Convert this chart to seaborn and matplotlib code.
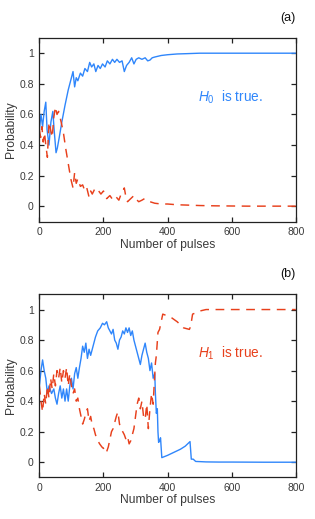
import numpy as np
import pandas as pd
import matplotlib
matplotlib.use("Agg")
import matplotlib.pyplot as plt
import seaborn as sns

# ---------------- data ----------------
# Panel (a): H0 is true
a_blue_x = [0, 5, 10, 15, 20, 24, 30, 36, 42, 46, 52, 56, 62, 70, 80, 90, 100, 105, 110, 115, 120, 128, 135, 142, 150, 157, 163, 170, 176, 183, 190, 197, 205, 212, 220, 228, 235, 242, 250, 258, 265, 272, 280, 288, 295, 302, 310, 320, 330, 338, 345, 352, 360, 370, 380, 400, 430, 460, 500, 550, 600, 650, 700, 750, 800]
a_blue_y = [0.50, 0.60, 0.52, 0.62, 0.68, 0.50, 0.40, 0.55, 0.62, 0.50, 0.35, 0.38, 0.45, 0.55, 0.66, 0.76, 0.84, 0.88, 0.78, 0.84, 0.82, 0.87, 0.85, 0.90, 0.88, 0.94, 0.91, 0.93, 0.88, 0.92, 0.90, 0.93, 0.91, 0.95, 0.93, 0.96, 0.94, 0.96, 0.94, 0.95, 0.88, 0.92, 0.94, 0.97, 0.93, 0.96, 0.97, 0.96, 0.97, 0.95, 0.955, 0.97, 0.975, 0.98, 0.985, 0.99, 0.995, 0.997, 1.0, 1.0, 1.0, 1.0, 1.0, 1.0, 1.0]
a_red_x = [0, 4, 8, 12, 16, 20, 25, 30, 35, 40, 45, 50, 55, 60, 68, 75, 82, 90, 98, 105, 110, 115, 120, 128, 135, 142, 148, 155, 160, 165, 172, 178, 185, 192, 200, 210, 220, 230, 240, 248, 255, 265, 270, 275, 285, 295, 300, 310, 320, 328, 335, 345, 360, 380, 400, 430, 460, 500, 550, 600, 650, 700, 750, 800]
a_red_y = [0.50, 0.45, 0.52, 0.42, 0.48, 0.40, 0.32, 0.55, 0.50, 0.45, 0.58, 0.65, 0.60, 0.62, 0.55, 0.48, 0.38, 0.28, 0.18, 0.12, 0.22, 0.15, 0.18, 0.13, 0.14, 0.10, 0.12, 0.06, 0.10, 0.08, 0.11, 0.09, 0.10, 0.08, 0.10, 0.05, 0.07, 0.04, 0.06, 0.04, 0.08, 0.12, 0.06, 0.03, 0.05, 0.07, 0.05, 0.03, 0.04, 0.05, 0.04, 0.03, 0.02, 0.015, 0.015, 0.01, 0.008, 0.005, 0.003, 0.002, 0.001, 0.001, 0.001, 0.001]

# Panel (b): H1 is true
b_blue_x = [0, 5, 10, 15, 20, 25, 30, 38, 45, 50, 55, 60, 65, 70, 75, 80, 85, 90, 95, 100, 105, 110, 115, 120, 125, 130, 135, 140, 145, 150, 155, 160, 165, 170, 175, 182, 190, 197, 203, 210, 215, 220, 225, 230, 235, 240, 245, 250, 255, 260, 265, 270, 275, 280, 285, 290, 295, 300, 305, 310, 315, 320, 325, 330, 335, 340, 345, 350, 355, 360, 362, 365, 368, 370, 372, 375, 378, 382, 400, 420, 440, 455, 470, 474, 480, 485, 488, 500, 520, 560, 600, 700, 800]
b_blue_y = [0.50, 0.60, 0.67, 0.60, 0.55, 0.45, 0.50, 0.45, 0.48, 0.42, 0.38, 0.45, 0.50, 0.42, 0.48, 0.40, 0.48, 0.40, 0.50, 0.55, 0.48, 0.58, 0.62, 0.55, 0.62, 0.68, 0.76, 0.72, 0.78, 0.68, 0.74, 0.70, 0.74, 0.78, 0.82, 0.86, 0.88, 0.91, 0.90, 0.92, 0.88, 0.86, 0.84, 0.87, 0.80, 0.78, 0.74, 0.80, 0.82, 0.86, 0.84, 0.88, 0.85, 0.88, 0.83, 0.86, 0.80, 0.76, 0.72, 0.68, 0.64, 0.70, 0.74, 0.78, 0.72, 0.68, 0.60, 0.65, 0.55, 0.58, 0.45, 0.32, 0.35, 0.20, 0.13, 0.14, 0.16, 0.03, 0.045, 0.065, 0.085, 0.105, 0.135, 0.02, 0.02, 0.01, 0.005, 0.004, 0.002, 0.001, 0.001, 0.0, 0.0]
b_red_x = [0, 5, 10, 15, 20, 25, 30, 35, 40, 45, 50, 55, 60, 65, 70, 75, 80, 85, 90, 95, 100, 105, 110, 115, 120, 125, 130, 135, 140, 145, 150, 155, 160, 165, 170, 175, 180, 188, 195, 200, 205, 210, 215, 220, 225, 230, 235, 240, 245, 250, 255, 260, 265, 270, 275, 280, 285, 290, 295, 300, 305, 310, 315, 320, 325, 330, 335, 340, 345, 350, 355, 358, 362, 365, 370, 375, 385, 410, 430, 450, 468, 472, 478, 490, 500, 520, 560, 600, 700, 800]
b_red_y = [0.50, 0.40, 0.33, 0.45, 0.38, 0.50, 0.42, 0.55, 0.48, 0.58, 0.50, 0.60, 0.55, 0.62, 0.52, 0.60, 0.55, 0.62, 0.50, 0.58, 0.50, 0.45, 0.48, 0.40, 0.42, 0.35, 0.30, 0.25, 0.28, 0.32, 0.35, 0.27, 0.30, 0.24, 0.22, 0.18, 0.15, 0.12, 0.10, 0.09, 0.10, 0.07, 0.10, 0.15, 0.20, 0.22, 0.26, 0.30, 0.33, 0.25, 0.22, 0.20, 0.18, 0.15, 0.17, 0.12, 0.14, 0.18, 0.22, 0.30, 0.38, 0.42, 0.35, 0.40, 0.30, 0.28, 0.38, 0.22, 0.35, 0.45, 0.38, 0.50, 0.65, 0.70, 0.85, 0.87, 0.97, 0.95, 0.92, 0.88, 0.87, 0.89, 0.97, 0.98, 0.99, 1.0, 1.0, 1.0, 1.0, 1.0]

x_ticks = [0, 200, 400, 600, 800]
y_ticks = [0, 0.2, 0.4, 0.6, 0.8, 1]
y_tick_labels = ["0", "0.2", "0.4", "0.6", "0.8", "1"]

BLUE = "#2f86fb"
RED = "#e8401c"
TXT = "#3a3a3a"

panels = [
    dict(label="(a)", bx=a_blue_x, by=a_blue_y, rx=a_red_x, ry=a_red_y, text_idx="0", color=BLUE),
    dict(label="(b)", bx=b_blue_x, by=b_blue_y, rx=b_red_x, ry=b_red_y, text_idx="1", color=RED),
]

# ---------------- style ----------------
sns.set_style("ticks")
plt.rcParams["font.family"] = ["Liberation Sans", "DejaVu Sans"]
plt.rcParams["mathtext.fontset"] = "custom"
plt.rcParams["mathtext.it"] = "Liberation Sans:italic"
plt.rcParams["mathtext.rm"] = "Liberation Sans"

fig = plt.figure(figsize=(3.15, 5.19), dpi=100)
axes = [fig.add_axes([0.125, 0.573, 0.814, 0.354]),
        fig.add_axes([0.125, 0.080, 0.814, 0.353])]

for ax, p in zip(axes, panels):
    dfb = pd.DataFrame({"x": p["bx"], "y": p["by"]})
    dfr = pd.DataFrame({"x": p["rx"], "y": p["ry"]})
    sns.lineplot(data=dfb, x="x", y="y", ax=ax, color=BLUE, lw=1.0,
                 estimator=None, sort=False)
    sns.lineplot(data=dfr, x="x", y="y", ax=ax, color=RED, lw=1.05,
                 estimator=None, sort=False, linestyle=(0, (6, 4.5)))
    ax.set_xlim(0, 800)
    ax.set_ylim(-0.1, 1.1)
    ax.set_xticks(x_ticks)
    ax.set_xticklabels([str(t) for t in x_ticks])
    ax.set_yticks(y_ticks)
    ax.set_yticklabels(y_tick_labels)
    ax.tick_params(direction="in", length=3.5, width=0.9, top=True, right=True,
                   labelsize=7.5, labelcolor=TXT, color="#222222", pad=4)
    for s in ax.spines.values():
        s.set_linewidth(0.9)
        s.set_color("#222222")
    ax.set_xlabel("Number of pulses", fontsize=8.7, color=TXT, labelpad=1)
    ax.set_ylabel("Probability", fontsize=8.7, color=TXT, labelpad=1.5)
    ax.text(1.0, 1.11, p["label"], transform=ax.transAxes, ha="right",
            va="center", fontsize=9, color="#111111")
    ax.text(495, 0.715, r"$H_{" + p["text_idx"] + r"}$  is true.", color=p["color"],
            fontsize=9.8, va="center", ha="left")

fig.savefig("out.png", dpi=100)
